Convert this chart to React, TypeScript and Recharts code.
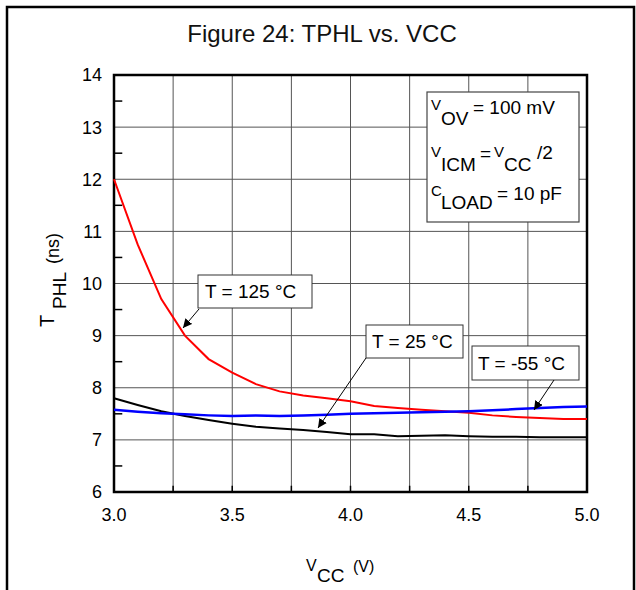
import React from 'react';
import { LineChart, Line, XAxis, YAxis, CartesianGrid, ReferenceArea, ReferenceLine } from 'recharts';

const vcc = [3.0, 3.1, 3.2, 3.3, 3.4, 3.5, 3.6, 3.7, 3.8, 3.9, 4.0, 4.1, 4.2, 4.3, 4.4, 4.5, 4.6, 4.7, 4.8, 4.9, 5.0];
const t125 = [12.0, 10.75, 9.7, 9.0, 8.55, 8.29, 8.07, 7.93, 7.85, 7.8, 7.74, 7.65, 7.61, 7.58, 7.55, 7.52, 7.47, 7.44, 7.42, 7.4, 7.4];
const t25 = [7.8, 7.67, 7.55, 7.46, 7.38, 7.31, 7.25, 7.22, 7.19, 7.15, 7.11, 7.11, 7.07, 7.08, 7.09, 7.07, 7.06, 7.06, 7.05, 7.05, 7.05];
const tm55 = [7.58, 7.54, 7.51, 7.49, 7.47, 7.46, 7.47, 7.46, 7.47, 7.48, 7.5, 7.51, 7.52, 7.53, 7.54, 7.55, 7.57, 7.59, 7.61, 7.63, 7.64];

const xTicks = [3.0, 3.25, 3.5, 3.75, 4.0, 4.25, 4.5, 4.75, 5.0];
const yTicks = [6, 7, 8, 9, 10, 11, 12, 13, 14];
const yMinorTicks = [6.5, 7.5, 8.5, 9.5, 10.5, 11.5, 12.5, 13.5];

const data = vcc.map((v, i) => ({ vcc: v, t125: t125[i], t25: t25[i], tm55: tm55[i] }));

const FONT = '"Liberation Sans", Arial, Helvetica, sans-serif';

const fmtX = (v: number) => (Math.abs(v * 2 - Math.round(v * 2)) < 1e-6 ? v.toFixed(1) : '');

export default function App() {
  return (
    <div style={{ position: 'absolute', left: 0, top: 0, width: 636, height: 590, background: '#fff', fontFamily: FONT }}>
      <LineChart
        width={636}
        height={590}
        data={data}
        margin={{ top: 75, right: 49, bottom: 68, left: 74 }}
      >
        <CartesianGrid stroke="#555" strokeWidth={1} />
        <XAxis
          dataKey="vcc"
          type="number"
          domain={[3, 5]}
          ticks={xTicks}
          tickFormatter={fmtX}
          height={30}
          axisLine={false}
          tickLine={false}
          tickSize={6}
          tickMargin={10}
          interval={0}
          tick={{ fill: '#000', fontSize: 18, fontFamily: FONT }}
        />
        <YAxis
          type="number"
          domain={[6, 14]}
          ticks={yTicks}
          width={40}
          axisLine={false}
          tickLine={false}
          tickSize={6}
          tickMargin={6}
          interval={0}
          tick={{ fill: '#000', fontSize: 18, fontFamily: FONT }}
        />
        {yMinorTicks.map((v) => (
          <ReferenceLine key={'ym' + v} segment={[{ x: 3, y: v }, { x: 3.035, y: v }]} stroke="#000" strokeWidth={1.5} />
        ))}
        {xTicks.map((v) => (
          <ReferenceLine key={'xm' + v} segment={[{ x: v, y: 6 }, { x: v, y: 6.12 }]} stroke="#000" strokeWidth={1.5} />
        ))}
        <Line type="linear" dataKey="t125" stroke="#ff0000" strokeWidth={2} dot={false} isAnimationActive={false} />
        <Line type="linear" dataKey="t25" stroke="#000000" strokeWidth={2} dot={false} isAnimationActive={false} />
        <Line type="linear" dataKey="tm55" stroke="#0000ff" strokeWidth={2.5} dot={false} isAnimationActive={false} />
        <ReferenceArea x1={3} x2={5} y1={6} y2={14} fill="none" fillOpacity={0} stroke="#000" strokeWidth={2.5} />
      </LineChart>
      <svg width={636} height={590} style={{ position: 'absolute', left: 0, top: 0, pointerEvents: 'none' }} fontFamily={FONT}>
        <defs>
          <marker id="arr" viewBox="0 0 10 10" refX="10" refY="5" markerWidth="9" markerHeight="9" markerUnits="userSpaceOnUse" orient="auto">
            <path d="M0,0 L10,5 L0,10 z" fill="#000" />
          </marker>
        </defs>
        {/* outer frame */}
        <path d="M7,590 L7,7 L634,7 L634,590" fill="none" stroke="#000" strokeWidth={2.5} />
        {/* title */}
        <text x={322} y={42} textAnchor="middle" fontSize={24} fill="#111">Figure 24: TPHL vs. VCC</text>

        {/* x label */}
        <text fontSize={16} fill="#000" x={306} y={571}>V</text>
        <text fontSize={19} fill="#000" x={317} y={582}>CC</text>
        <text fontSize={16} fill="#000" x={353} y={572}>(V)</text>

        {/* y label */}
        <g transform="rotate(-90)">
          <text fontSize={20} fill="#000" x={-327} y={54}>T</text>
          <text fontSize={19} fill="#000" x={-309} y={66}>PHL</text>
          <text fontSize={18} fill="#000" x={-264} y={59}>(ns)</text>
        </g>

        {/* conditions box */}
        <rect x={427} y={92} width={152} height={130} fill="#fff" stroke="#444" strokeWidth={1.2} />
        <text fontSize={15} fill="#000" x={431} y={110}>V</text>
        <text fontSize={19} fill="#000" x={441} y={125}>OV</text>
        <text fontSize={19} fill="#000" x={473} y={114}>= 100 mV</text>

        <text fontSize={15} fill="#000" x={431} y={157}>V</text>
        <text fontSize={19} fill="#000" x={441} y={171}>ICM</text>
        <text fontSize={19} fill="#000" x={480} y={160}>=</text>
        <text fontSize={15} fill="#000" x={494} y={157}>V</text>
        <text fontSize={19} fill="#000" x={504} y={171}>CC</text>
        <text fontSize={19} fill="#000" x={537} y={159}>/2</text>

        <text fontSize={15} fill="#000" x={431} y={196}>C</text>
        <text fontSize={19} fill="#000" x={441} y={209}>LOAD</text>
        <text fontSize={19} fill="#000" x={497} y={200}>= 10 pF</text>

        {/* T = 125 label */}
        <rect x={198} y={275} width={114} height={33} fill="#fff" stroke="#333" strokeWidth={1} />
        <text fontSize={19} fill="#000" x={205} y={298}>T = 125 °C</text>
        <line x1={199} y1={309} x2={183} y2={328} stroke="#000" strokeWidth={1} markerEnd="url(#arr)" />

        {/* T = 25 label */}
        <rect x={366} y={325} width={97} height={33} fill="#fff" stroke="#333" strokeWidth={1} />
        <text fontSize={19} fill="#000" x={372} y={348}>T = 25 °C</text>
        <line x1={366} y1={358} x2={318} y2={428} stroke="#000" strokeWidth={1} markerEnd="url(#arr)" />

        {/* T = -55 label */}
        <rect x={472} y={346} width={107} height={34} fill="#fff" stroke="#333" strokeWidth={1} />
        <text fontSize={19} fill="#000" x={478} y={370}>T = -55 °C</text>
        <line x1={554} y1={380} x2={534} y2={410} stroke="#000" strokeWidth={1} markerEnd="url(#arr)" />
      </svg>
    </div>
  );
}
